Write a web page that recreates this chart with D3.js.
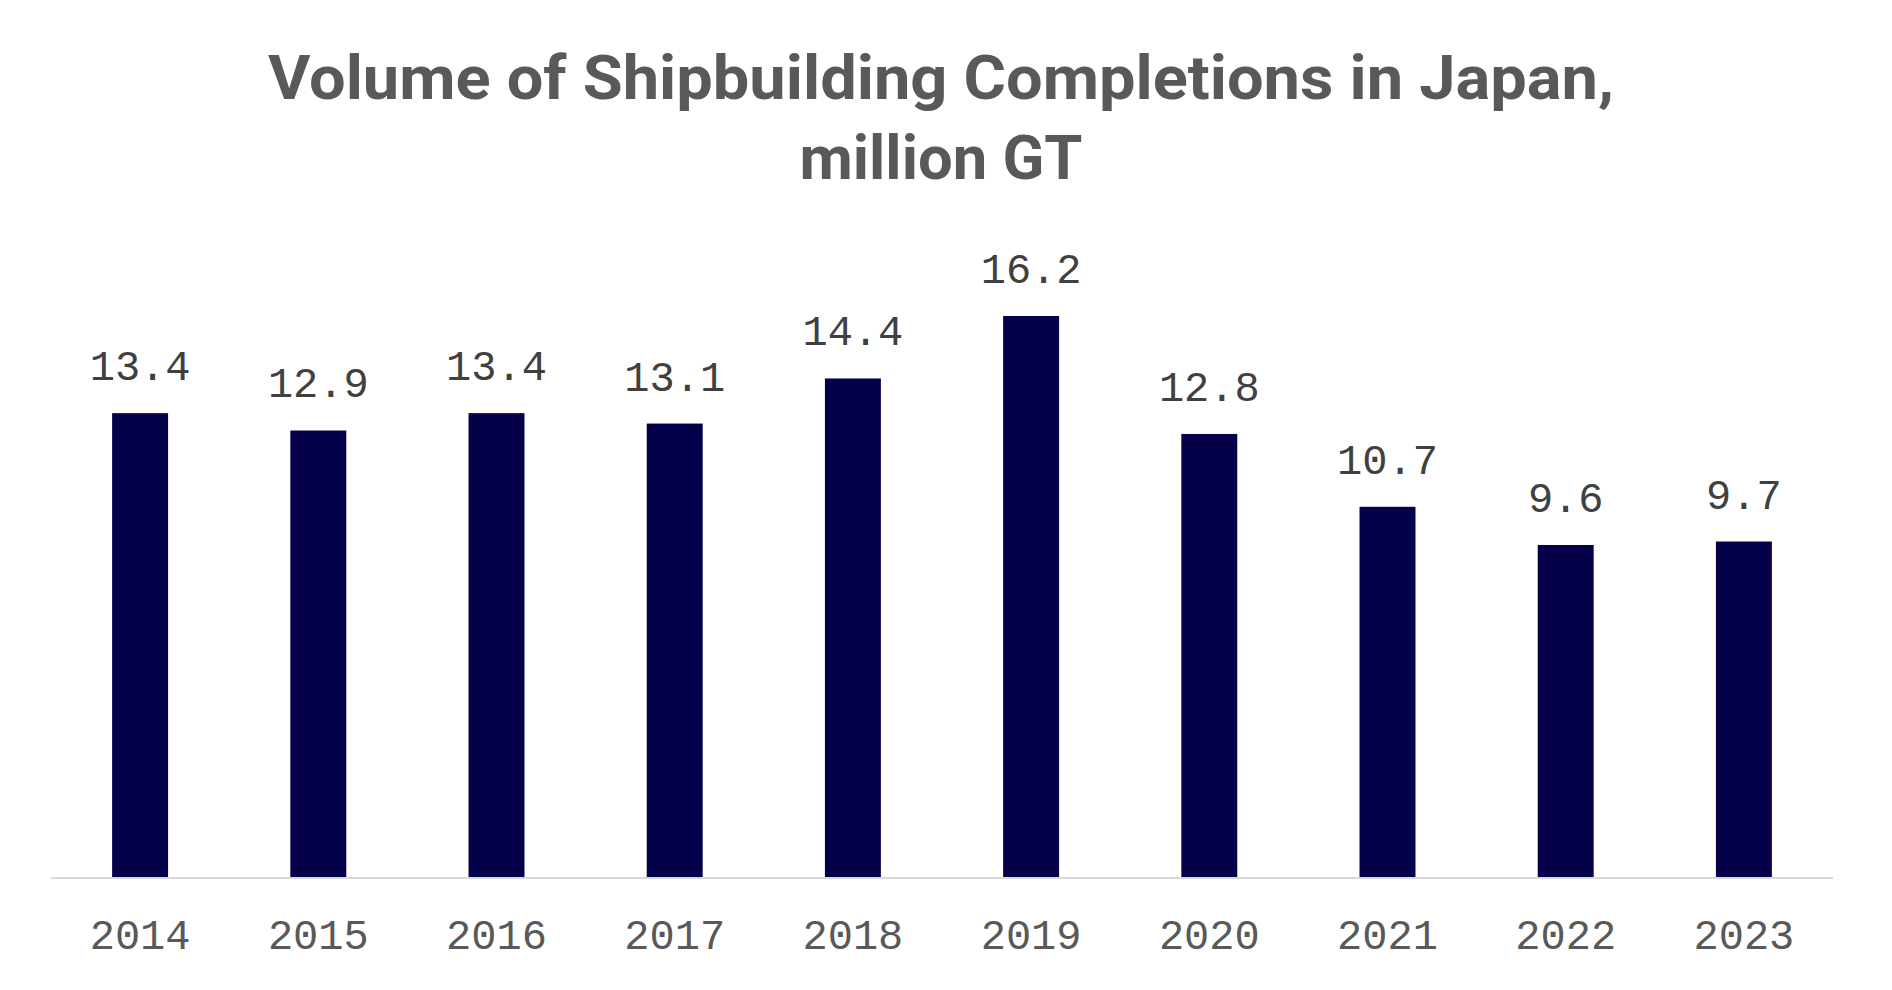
<!DOCTYPE html>
<html>
<head>
<meta charset="utf-8">
<script src="https://cdn.jsdelivr.net/npm/d3@7"></script>
<style>
  html, body { margin: 0; padding: 0; background: #ffffff; }
  svg { display: block; }
</style>
</head>
<body>
<svg id="chart" width="1892" height="990"></svg>
<script>
const titleLines = ["Volume of Shipbuilding Completions in Japan,", "million GT"];
const categories = ["2014", "2015", "2016", "2017", "2018", "2019", "2020", "2021", "2022", "2023"];
const values = [13.4, 12.9, 13.4, 13.1, 14.4, 16.2, 12.8, 10.7, 9.6, 9.7];
const valueLabels = ["13.4", "12.9", "13.4", "13.1", "14.4", "16.2", "12.8", "10.7", "9.6", "9.7"];

const svg = d3.select("#chart");
const margin = { left: 51, right: 59, baseline: 878 };
const width = 1892;

const x = d3.scaleBand()
  .domain(categories)
  .range([margin.left, width - margin.right])
  .paddingInner(0.686)
  .paddingOuter(0.343);

const y = d3.scaleLinear()
  .domain([0, 18])
  .range([margin.baseline, margin.baseline - 18 * 34.69]);

// Title
const titleWidths = [1346, 283];
svg.append("g").selectAll("text")
  .data(titleLines)
  .join("text")
  .attr("x", 941)
  .attr("y", (d, i) => 99 + i * 80)
  .attr("text-anchor", "middle")
  .attr("font-family", "Roboto, 'Open Sans', sans-serif")
  .attr("font-weight", 700)
  .attr("font-size", 62)
  .attr("fill", "#595959")
  .attr("textLength", (d, i) => titleWidths[i])
  .attr("lengthAdjust", "spacingAndGlyphs")
  .text(d => d);

// Bars
svg.append("g").selectAll("rect")
  .data(values)
  .join("rect")
  .attr("x", (d, i) => x(categories[i]))
  .attr("width", x.bandwidth())
  .attr("y", d => y(d))
  .attr("height", d => y(0) - y(d))
  .attr("fill", "#05004a");

// Value labels
svg.append("g").selectAll("text")
  .data(values)
  .join("text")
  .attr("x", (d, i) => x(categories[i]) + x.bandwidth() / 2)
  .attr("y", d => y(d) - 33)
  .attr("text-anchor", "middle")
  .attr("font-family", "'Liberation Mono', monospace")
  .attr("font-size", 42)
  .attr("fill", "#404040")
  .text((d, i) => valueLabels[i]);

// X axis
const xAxis = d3.axisBottom(x).tickSize(0).tickPadding(0);
const gx = svg.append("g")
  .attr("transform", `translate(0,${y(0)})`)
  .call(xAxis);
gx.select(".domain")
  .attr("d", `M${x.range()[0]},0H${x.range()[1]}`)
  .attr("stroke", "#d9d9d9")
  .attr("stroke-width", 2);
gx.selectAll(".tick text")
  .attr("y", 71)
  .attr("dy", 0)
  .attr("font-family", "'Liberation Mono', monospace")
  .attr("font-size", 42)
  .attr("fill", "#595959");
</script>
</body>
</html>
